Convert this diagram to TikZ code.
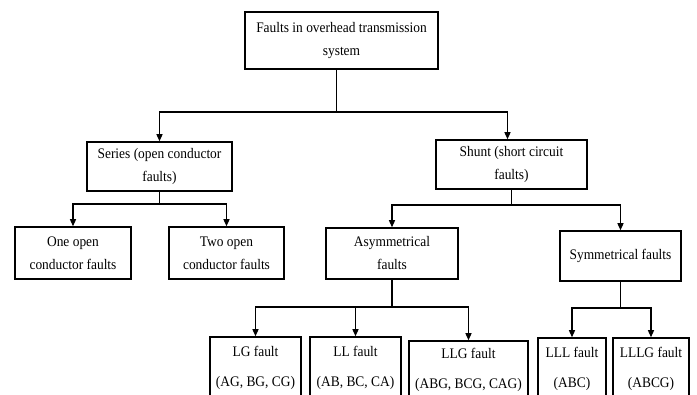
\documentclass[tikz,border=0pt]{standalone}
\usepackage{fontspec}
\setmainfont[FakeStretch=0.92]{Liberation Serif}
\usetikzlibrary{arrows.meta}

\begin{document}
\begin{tikzpicture}[x=1pt, y=-1pt,
node_style/.style={draw=black, line width=1.5pt, align=center, inner sep=0pt, font=\fontsize{14.6}{23}\selectfont},
edge_style/.style={draw=black, line width=1.2pt, -{Triangle[length=7pt,width=6pt]}}]
\useasboundingbox (0,0) rectangle (697,395);
\clip (0,0) rectangle (697,395);

\node[node_style, minimum width=193pt, minimum height=57pt] (a) at (341.5,40.5) {Faults in overhead transmission\\system};
\node[node_style, minimum width=145pt, minimum height=49pt] (b) at (159.5,166.5) {Series (open conductor\\faults)};
\node[node_style, minimum width=151pt, minimum height=49pt] (c) at (511.5,164.5) {Shunt (short circuit\\faults)};
\node[node_style, minimum width=116pt, minimum height=52pt] (d) at (73,253) {One open\\conductor faults};
\node[node_style, minimum width=115pt, minimum height=52pt] (e) at (226.5,253) {Two open\\conductor faults};
\node[node_style, minimum width=132pt, minimum height=51pt] (f) at (392,253.5) {Asymmetrical\\faults};
\node[node_style, minimum width=121pt, minimum height=50pt] (g) at (620.5,256) {Symmetrical faults};
\node[node_style, minimum width=91pt, minimum height=62pt] (h) at (255.5,368) {LG fault\\[7pt](AG, BG, CG)};
\node[node_style, minimum width=91pt, minimum height=62pt] (i) at (355.5,368) {LL fault\\[7pt](AB, BC, CA)};
\node[node_style, minimum width=119pt, minimum height=58pt] (j) at (468.5,370) {LLG fault\\[7pt](ABG, BCG, CAG)};
\node[node_style, minimum width=68pt, minimum height=61pt] (k) at (572,368.5) {LLL fault\\[7pt](ABC)};
\node[node_style, minimum width=76pt, minimum height=61pt] (l) at (651,368.5) {LLLG fault\\[7pt](ABCG)};

\coordinate (bus_a) at (0,112);
\coordinate (bus_b) at (0,204);
\coordinate (bus_c) at (0,205);
\coordinate (bus_f) at (0,307);
\coordinate (bus_g) at (0,308);

\draw[edge_style] ([xshift=-5pt]a.south) -- ([xshift=-5pt]a.south |- bus_a) -| (b.north);
\draw[edge_style] ([xshift=-5pt]a.south |- bus_a) -| ([xshift=-4pt]c.north);
\draw[edge_style] (b.south) -- (b.south |- bus_b) -| (d.north);
\draw[edge_style] (b.south |- bus_b) -| (e.north);
\draw[edge_style] (c.south) -- (c.south |- bus_c) -| (f.north);
\draw[edge_style] (c.south |- bus_c) -| (g.north);
\draw[edge_style] (f.south) -- (f.south |- bus_f) -| (h.north);
\draw[edge_style] (f.south |- bus_f) -| (i.north);
\draw[edge_style] (f.south |- bus_f) -| (j.north);
\draw[edge_style] (g.south) -- (g.south |- bus_g) -| (k.north);
\draw[edge_style] (g.south |- bus_g) -| (l.north);

\end{tikzpicture}
\end{document}
